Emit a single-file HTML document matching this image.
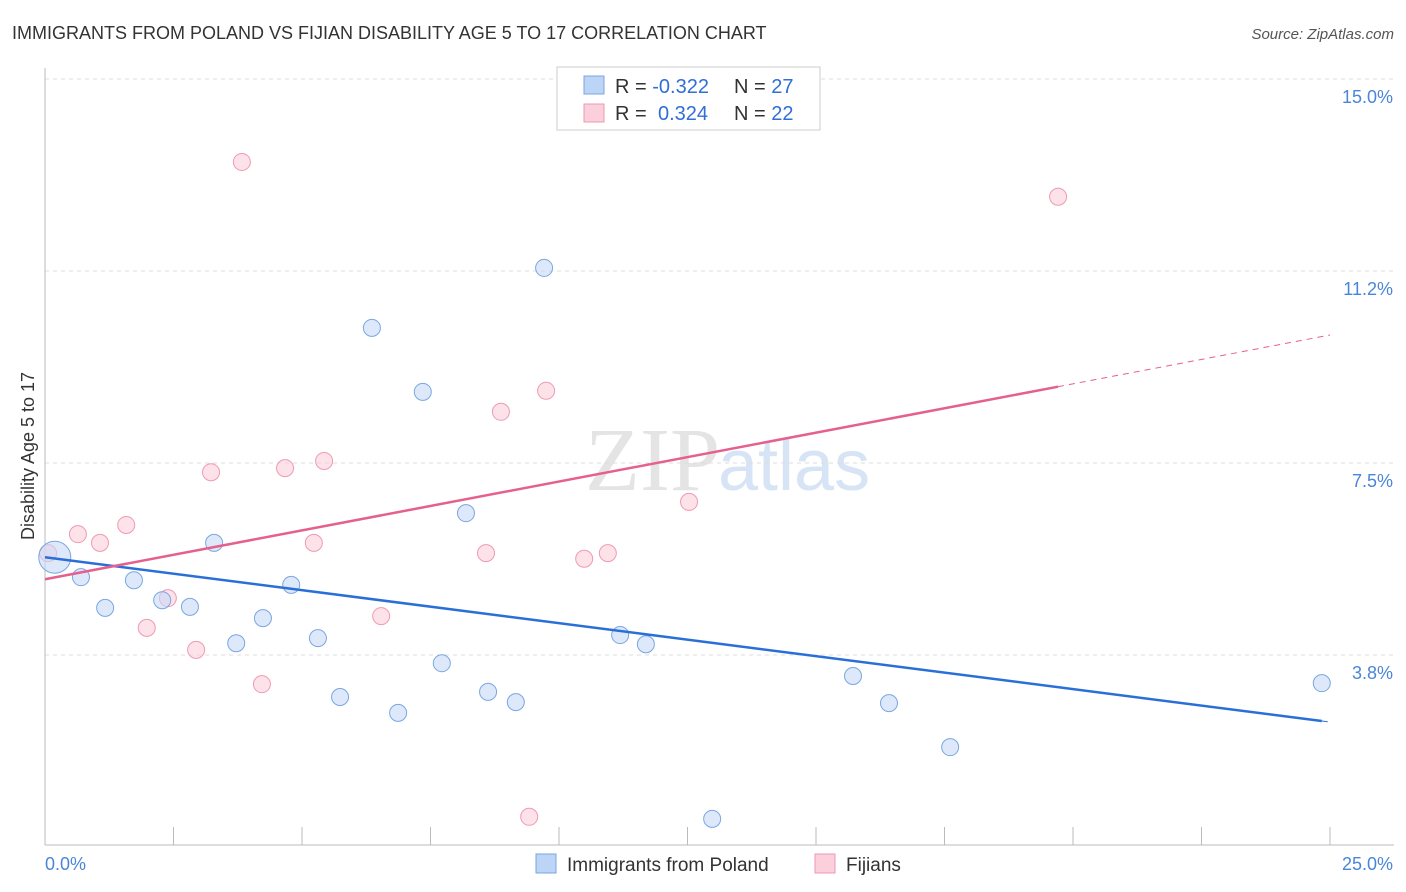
<!DOCTYPE html>
<html><head><meta charset="utf-8"><style>
body{margin:0;background:#fff;font-family:"Liberation Sans",sans-serif;}
svg{display:block}
</style></head><body>
<svg width="1406" height="892">
<text x="12" y="39" font-size="18" fill="#333">IMMIGRANTS FROM POLAND VS FIJIAN DISABILITY AGE 5 TO 17 CORRELATION CHART</text>
<text x="1394" y="39" font-size="15" fill="#555" text-anchor="end" font-style="italic">Source: ZipAtlas.com</text>
<text x="720" y="490" font-size="90" fill="#e4e4e4" text-anchor="end" font-family="Liberation Serif,serif">ZIP</text>
<text x="718" y="490" font-size="72" fill="#d6e4f5">atlas</text>
<g id="grid"></g><g id="axes"></g><g id="marks"></g>
<text transform="translate(34,456) rotate(-90)" font-size="18" fill="#333" text-anchor="middle">Disability Age 5 to 17</text>
<g>
<rect x="557" y="67" width="263" height="63" fill="#fff" stroke="#ccc"/>
<rect x="584" y="76" width="20" height="18" fill="#bcd4f5" stroke="#7aa6e0"/>
<rect x="584" y="104" width="20" height="18" fill="#fbcfdc" stroke="#ee9ab3"/>
<text x="615" y="93" font-size="20" fill="#333">R = <tspan fill="#2f6fd6">-0.322</tspan><tspan x="734">N = </tspan><tspan fill="#2f6fd6">27</tspan></text>
<text x="615" y="120" font-size="20" fill="#333">R = <tspan x="658" fill="#2f6fd6">0.324</tspan><tspan x="734">N = </tspan><tspan fill="#2f6fd6">22</tspan></text>
</g>
<g>
<rect x="536" y="854" width="20" height="19" fill="#bcd4f5" stroke="#7aa6e0"/>
<text x="567" y="871" font-size="19" fill="#333">Immigrants from Poland</text>
<rect x="815" y="854" width="20" height="19" fill="#fbcfdc" stroke="#ee9ab3"/>
<text x="846" y="871" font-size="19" fill="#333">Fijians</text>
</g>
</svg>
<script>
const yTicks=[3.75,7.5,11.25,15];
const yTickLabels=["3.8%","7.5%","11.2%","15.0%"];
const xTickCount=10;
const polandX=[0.19,0.70,1.17,1.73,2.28,2.82,3.29,3.72,4.24,4.79,5.31,5.74,6.36,6.87,7.35,7.72,8.19,8.62,9.16,9.71,11.19,11.69,15.72,16.42,17.61,12.98,24.84];
const polandY=[5.66,5.27,4.67,5.21,4.82,4.69,5.94,3.98,4.47,5.12,4.08,2.93,10.14,2.62,8.89,3.59,6.52,3.03,2.83,11.31,4.14,3.96,3.34,2.81,1.95,0.55,3.20];
const fijiX=[0.06,0.64,1.07,1.58,1.98,2.39,2.94,3.23,3.83,4.22,4.67,5.23,5.43,6.54,8.58,8.87,9.42,9.75,10.49,10.95,12.53,19.71];
const fijiY=[5.74,6.11,5.94,6.29,4.28,4.86,3.85,7.32,13.38,3.18,7.40,5.94,7.54,4.51,5.74,8.50,0.59,8.91,5.63,5.74,6.74,12.70];
const polandTrend=[5.66,2.44];
const fijiTrend=[5.23,10.0];
const NS="http://www.w3.org/2000/svg";
const X=v=>45+v/25*1285;
const Y=v=>655-(v-3.75)*51.2;
function mk(p,t,a){const e=document.createElementNS(NS,t);for(const k in a)e.setAttribute(k,a[k]);p.appendChild(e);return e;}
const grid=document.getElementById('grid'),axes=document.getElementById('axes'),marks=document.getElementById('marks');
yTicks.forEach((t,i)=>{
 const l=mk(grid,'line',{x1:45,x2:1394,y1:Y(t),y2:Y(t),stroke:'#ddd','stroke-dasharray':'4,4'});
 
 
 const tx=mk(grid,'text',{x:1393,y:Y(t)+24,'font-size':18,fill:'#4a86d8','text-anchor':'end'});tx.textContent=yTickLabels[i];
 
 
});
const ax=mk(axes,'line',{x1:45,x2:1394,y1:845,y2:845,stroke:'#bbb'});


const ay=mk(axes,'line',{x1:45,x2:45,y1:68,y2:845,stroke:'#bbb'});


for(let i=1;i<=xTickCount;i++){const v=25*i/xTickCount;const t=mk(axes,'line',{x1:X(v),x2:X(v),y1:827,y2:845,stroke:'#bbb'});
 
 }
const xl0=mk(axes,'text',{x:45,y:870,'font-size':18,fill:'#4a86d8'});xl0.textContent='0.0%';


const xl1=mk(axes,'text',{x:1393,y:870,'font-size':18,fill:'#4a86d8','text-anchor':'end'});xl1.textContent='25.0%';


function pts(xs,ys,fill,stroke,name){xs.forEach((x,i)=>{const c=mk(marks,'circle',{cx:X(x),cy:Y(ys[i]),r:i===0&&name==='poland-point'?16:8.5,fill,stroke,'stroke-width':1,'fill-opacity':0.6});
 
 });}
pts(fijiX,fijiY,'#fbcfdc','#ee9ab3','fijian-point');
pts(polandX,polandY,'#c6dbf7','#7aa6e0','poland-point');
function trend(tr,xs,col,name){const mx=Math.max(...xs);const f=v=>tr[0]+(tr[1]-tr[0])*v/25;
 const s=mk(marks,'line',{x1:X(0),y1:Y(f(0)),x2:X(mx),y2:Y(f(mx)),stroke:col,'stroke-width':2.5});
 
 
 if(mx<24.9){const d=mk(marks,'line',{x1:X(mx),y1:Y(f(mx)),x2:X(25),y2:Y(f(25)),stroke:col,'stroke-width':1,'stroke-dasharray':'6,5'});
 
 }}
trend(polandTrend,polandX,'#2a6fd8','poland-trendline');
trend(fijiTrend,fijiX,'#e5608c','fijian-trendline');
</script>
</body></html>
